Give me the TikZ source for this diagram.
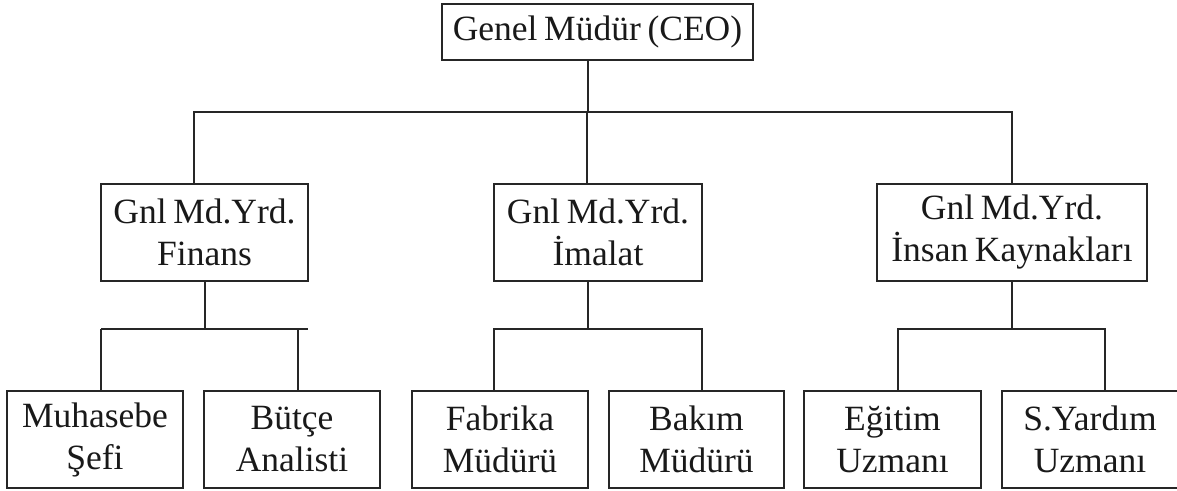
\documentclass[tikz,border=0pt]{standalone}
\usepackage{fontspec}
\setmainfont[WordSpace=0.75]{Liberation Serif}
\begin{document}
\begin{tikzpicture}[x=1pt,y=-1pt,
  box/.style={draw=black!85, line width=1.2pt, inner sep=0pt, align=center,
    font=\fontsize{35.5}{42}\selectfont, text=black!90},
  conn/.style={draw=black!85, line width=1.2pt}]
\useasboundingbox (0,0) rectangle (1177,490);
% boxes
\node[box, minimum width=311pt, minimum height=56pt] (ceo) at (597.5,32) {Genel Müdür (CEO)};
\node[box, minimum width=207pt, minimum height=97pt] (fin) at (204.5,232.5) {Gnl Md.Yrd.\\Finans};
\node[box, minimum width=208pt, minimum height=97pt] (ima) at (598,232.5) {Gnl Md.Yrd.\\İmalat};
\node[box, minimum width=270pt, minimum height=97pt] (ik) at (1012,232.5) {Gnl Md.Yrd.\\İnsan Kaynakları};
\node[box, minimum width=176pt, minimum height=97pt] (muh) at (95,439.5) {Muhasebe\\Şefi};
\node[box, minimum width=176pt, minimum height=97pt] (but) at (292,439.5) {Bütçe\\Analisti};
\node[box, minimum width=176pt, minimum height=97pt] (fab) at (500,439.5) {Fabrika\\Müdürü};
\node[box, minimum width=175pt, minimum height=97pt] (bak) at (696.5,439.5) {Bakım\\Müdürü};
\node[box, minimum width=177pt, minimum height=97pt] (egi) at (892.5,439.5) {Eğitim\\Uzmanı};
\node[box, minimum width=176pt, minimum height=97pt] (syr) at (1090,439.5) {S.Yardım\\Uzmanı};
% junctions
\coordinate (j0) at (588,112);
\coordinate (jf) at (205,329);
\coordinate (ji) at (588,329);
\coordinate (jk) at (1012,329);
% level 1
\draw[conn] (ceo.south -| j0) -- (j0);
\draw[conn] ([xshift=-10.5pt]fin.north) |- (j0);
\draw[conn] (j0) -| (ik.north);
\draw[conn] ([xshift=-11pt]ima.north) -- ([xshift=-11pt]ima.north |- j0);
% level 2 finans
\draw[conn] (fin.south -| jf) -- (jf);
\draw[conn] (101,329) -- (308,329);
\draw[conn] (muh.north -| 101,0) -- (101,329);
\draw[conn] (but.north -| 298,0) -- (298,329);
% level 2 imalat
\draw[conn] (ima.south -| ji) -- (ji);
\draw[conn] (fab.north -| 494,0) |- (ji) -| (bak.north -| 702,0);
% level 2 ik
\draw[conn] (ik.south) -- (jk);
\draw[conn] (egi.north -| 898,0) |- (jk) -| (syr.north -| 1105,0);
\end{tikzpicture}
\end{document}
